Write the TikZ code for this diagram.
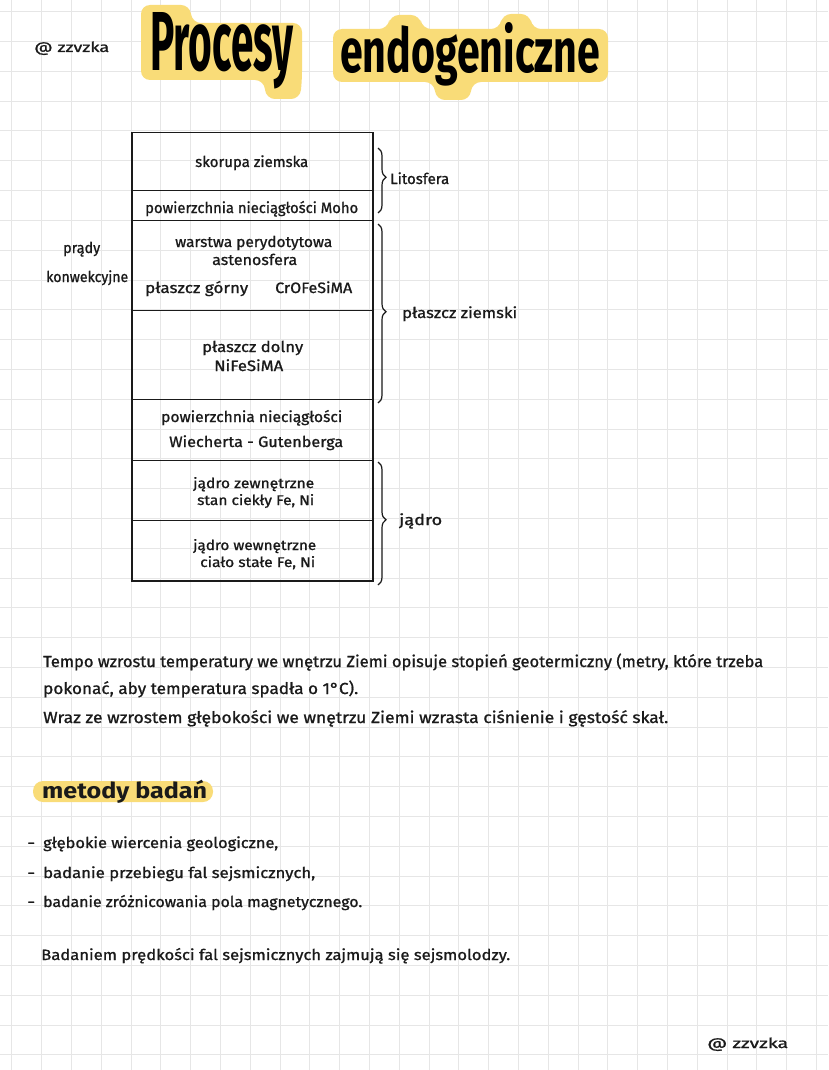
\documentclass[tikz,border=0pt]{standalone}
\usepackage{fontspec}
\usepackage{graphicx}
\usetikzlibrary{decorations.pathreplacing,calc}
\newfontfamily\hand{Fira Sans}[FakeBold=1]
\newfontfamily\brush{Fira Sans}
\definecolor{ink}{HTML}{1A1A1A}
\definecolor{hl}{HTML}{F9DC78}
\definecolor{gridc}{HTML}{E6E6E6}
\newcommand{\fitto}[2]{\resizebox{#1pt}{\height}{#2}}
\newcommand{\titleP}{\resizebox{143pt}{58pt}{\brush\bfseries\fontsize{80}{80}\selectfont Procesy}}
\newcommand{\titleE}{\resizebox{260pt}{50pt}{\brush\bfseries\fontsize{70}{70}\selectfont endogeniczne}}
\begin{document}
\begin{tikzpicture}[x=1pt,y=-1pt,
  gridline/.style={draw=gridc,line width=0.8pt},
  cell/.style={draw=ink,line width=1.2pt,minimum width=241pt,inner sep=0pt,anchor=center},
  hand/.style={inner sep=0pt,anchor=base west,text=ink,font=\hand\fontsize{15}{18}\selectfont},
  small/.style={hand,font=\hand\fontsize{14}{16}\selectfont},
  para/.style={hand,font=\hand\fontsize{16}{19}\selectfont},
  glow/.style={fill=hl,rounded corners=9pt},
  bracestyle/.style={draw=ink,line width=1.2pt,decorate},
]
\useasboundingbox (0,0) rectangle (828,1070);
\fill[white] (0,0) rectangle (828,1070);
% grid
\foreach \i in {0,...,27} \draw[gridline] ({11.7+29.8*\i},0) -- ({11.7+29.8*\i},1070);
\foreach \j in {0,...,35} \draw[gridline] (0,{11.7+29.8*\j}) -- (828,{11.7+29.8*\j});

% title highlight
\fill[glow] (141,5) -- (190,5) -- (192,23) -- (302,23) -- (302,80) -- (300,99)
  -- (266,99) -- (264,80) -- (141,80) -- cycle;
\fill[glow] (333,29) -- (388,29) -- (390,15) -- (420,15) -- (422,29) -- (500,29)
  -- (502,14) -- (530,14) -- (532,29) -- (608,29) -- (608,82) -- (472,82)
  -- (470,100) -- (436,100) -- (434,82) -- (333,82) -- cycle;
\node[inner sep=0pt,anchor=base west,text=black] (titleP) at (150,71) {\titleP};
\node[inner sep=0pt,anchor=base west,text=black] (titleE) at (340,73) {\titleE};
\node[hand,font=\hand\fontsize{14}{16}\selectfont] (sigtop) at (34,52) {\fitto{75}{@ zzvzka}};

% table
\node[cell,minimum height=58pt] (c1) at (252.5,161.5) {};
\node[cell,minimum height=30pt] (c2) at (252.5,205.5) {};
\node[cell,minimum height=90pt] (c3) at (252.5,265.5) {};
\node[cell,minimum height=89pt] (c4) at (252.5,355) {};
\node[cell,minimum height=61pt] (c5) at (252.5,430) {};
\node[cell,minimum height=60pt] (c6) at (252.5,490.5) {};
\node[cell,minimum height=60.5pt] (c7) at (252.5,550.75) {};

\node[hand] (t1) at (195,167) {\fitto{113}{skorupa ziemska}};
\node[hand] (t2) at (145,213) {\fitto{213}{powierzchnia nieciągłości Moho}};
\node[hand] (t3) at (175,247) {\fitto{157}{warstwa perydotytowa}};
\node[hand] (t4) at (212,265) {\fitto{85}{astenosfera}};
\node[hand] (t5) at (145,293) {\fitto{103}{płaszcz górny}};
\node[hand] (t6) at (275,293) {\fitto{77}{CrOFeSiMA}};
\node[hand] (t7) at (202,352) {\fitto{101}{płaszcz dolny}};
\node[hand] (t8) at (214,371) {\fitto{69}{NiFeSiMA}};
\node[hand] (t9) at (161,422) {\fitto{181}{powierzchnia nieciągłości}};
\node[hand] (t10) at (169,447) {\fitto{174}{Wiecherta - Gutenberga}};
\node[small] (t11) at (193,488) {\fitto{121}{jądro zewnętrzne}};
\node[small] (t12) at (197,505) {\fitto{117}{stan ciekły Fe, Ni}};
\node[small] (t13) at (193,550) {\fitto{123}{jądro wewnętrzne}};
\node[small] (t14) at (200,567) {\fitto{115}{ciało stałe Fe, Ni}};

\node[hand] (prady) at (63,253) {\fitto{37}{prądy}};
\node[hand] (konw) at (46,282) {\fitto{82}{konwekcyjne}};

% braces
\coordinate (b1a) at (378,148); \coordinate (b1b) at (378,213);
\coordinate (b2a) at (378,224); \coordinate (b2b) at (378,403);
\coordinate (b3a) at (378,462); \coordinate (b3b) at (378,585);
\draw[bracestyle,decoration={brace,amplitude=8pt,aspect=0.45}] (b1a) -- (b1b);
\draw[bracestyle,decoration={brace,amplitude=8pt,aspect=0.49}] (b2a) -- (b2b);
\draw[bracestyle,decoration={brace,amplitude=8pt,aspect=0.47}] (b3a) -- (b3b);
\node[hand] (lito) at (390,184) {\fitto{59}{Litosfera}};
\node[hand] (plz) at (402,318) {\fitto{115}{płaszcz ziemski}};
\node[hand] (jadro) at (399,525) {\fitto{43}{jądro}};

% paragraph
\node[para] (p1) at (43,667) {\fitto{720}{Tempo wzrostu temperatury we wnętrzu Ziemi opisuje stopień geotermiczny (metry, które trzeba}};
\node[para] (p2) at (43,694) {\fitto{315}{pokonać, aby temperatura spadła o 1°C).}};
\node[para] (p3) at (43,723) {\fitto{625}{Wraz ze wzrostem głębokości we wnętrzu Ziemi wzrasta ciśnienie i gęstość skał.}};

% heading
\fill[hl,rounded corners=10pt] (33,781) rectangle (213,802);
\node[hand,font=\brush\bfseries\fontsize{22}{24}\selectfont] (head) at (42,798) {\fitto{165}{metody badań}};

% list
\node[hand] (d1) at (27,848) {\fitto{8}{-}};
\node[hand] (d2) at (27,878) {\fitto{8}{-}};
\node[hand] (d3) at (27,907) {\fitto{8}{-}};
\node[hand] (l1) at (43,848) {\fitto{235}{głębokie wiercenia geologiczne,}};
\node[hand] (l2) at (43,878) {\fitto{272}{badanie przebiegu fal sejsmicznych,}};
\node[hand] (l3) at (43,907) {\fitto{319}{badanie zróżnicowania pola magnetycznego.}};
\node[hand] (fin) at (41,960) {\fitto{469}{Badaniem prędkości fal sejsmicznych zajmują się sejsmolodzy.}};

\node[hand,font=\hand\fontsize{14}{16}\selectfont] (sigbot) at (707,1048) {\fitto{81}{@ zzvzka}};
\end{tikzpicture}
\end{document}
